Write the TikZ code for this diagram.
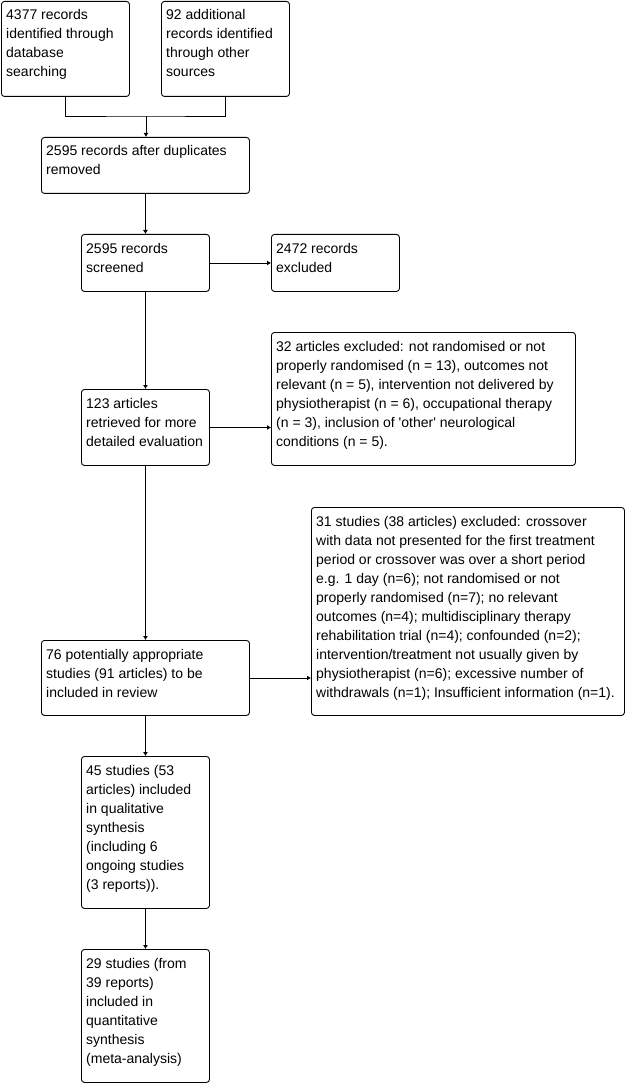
\documentclass[tikz,border=0pt]{standalone}
\usepackage{fontspec}
\newfontfamily\arialf{Liberation Sans}
\usetikzlibrary{arrows.meta}
\begin{document}
\begin{tikzpicture}[x=1pt,y=1pt,
  box/.style={draw=black, line width=0.9pt, rounded corners=3pt, anchor=north west, inner sep=0pt},
  txt/.style={anchor=north west, align=left, inner xsep=5pt, inner ysep=5.5pt,
    font=\arialf\fontsize{14}{19}\selectfont},
  line/.style={draw=black, line width=0.9pt},
  arr/.style={line, -{Latex[length=4pt,width=5pt]}}]
\useasboundingbox (0,0) rectangle (626,-1083);
\fill[white] (0,0) rectangle (626,-1083);
% boxes
\node[box, minimum width=128, minimum height=95] (a) at (1,-1) {};
\node[box, minimum width=128, minimum height=95] (b) at (161,-1) {};
\node[box, minimum width=208, minimum height=56] (c) at (41,-137) {};
\node[box, minimum width=128, minimum height=57] (d) at (81,-234) {};
\node[box, minimum width=128, minimum height=57] (e) at (271,-234) {};
\node[box, minimum width=128, minimum height=76] (f) at (81,-389) {};
\node[box, minimum width=304, minimum height=133] (g) at (271,-332) {};
\node[box, minimum width=208, minimum height=75] (h) at (41,-640) {};
\node[box, minimum width=313, minimum height=208] (i) at (311,-507) {};
\node[box, minimum width=128, minimum height=152] (j) at (81,-756) {};
\node[box, minimum width=128, minimum height=133] (k) at (81,-949) {};
% texts
\node[txt] (at) at (a.north west) {\strut 4377 records\\identified through\\database\\searching};
\node[txt] (bt) at (b.north west) {\strut 92 additional\\records identified\\through other\\sources};
\node[txt] (ct) at (c.north west) {\strut 2595 records after duplicates\\removed};
\node[txt] (dt) at (d.north west) {\strut 2595 records\\screened};
\node[txt] (et) at (e.north west) {\strut 2472 records\\excluded};
\node[txt] (ft) at (f.north west) {\strut 123 articles\\retrieved for more\\detailed evaluation};
\node[txt] (gt) at (g.north west) {\strut 32 articles excluded: not randomised or not\\properly randomised (n = 13), outcomes not\\relevant (n = 5), intervention not delivered by\\physiotherapist (n = 6), occupational therapy\\(n = 3), inclusion of 'other' neurological\\conditions (n = 5).};
\node[txt] (ht) at (h.north west) {\strut 76 potentially appropriate\\studies (91 articles) to be\\included in review};
\node[txt] (it) at (i.north west) {\strut 31 studies (38 articles) excluded: crossover\\with data not presented for the first treatment\\period or crossover was over a short period\\e.g. 1 day (n=6); not randomised or not\\properly randomised (n=7); no relevant\\outcomes (n=4); multidisciplinary therapy\\rehabilitation trial (n=4); confounded (n=2);\\intervention/treatment not usually given by\\physiotherapist (n=6); excessive number of\\withdrawals (n=1); Insufficient information (n=1).};
\node[txt] (jt) at (j.north west) {\strut 45 studies (53\\articles) included\\in qualitative\\synthesis\\(including 6\\ongoing studies\\(3 reports)).};
\node[txt] (kt) at (k.north west) {\strut 29 studies (from\\39 reports)\\included in\\quantitative\\synthesis\\(meta-analysis)};
% connectors
\coordinate (jn) at (146,-116);
\draw[line] (a.south) |- (jn) -| (b.south);
\draw[arr] (jn) -- (jn |- c.north);
\draw[arr] (c.south) -- (d.north);
\draw[arr] (d.east) -- (d.east -| e.west);
\draw[arr] (d.south) -- (f.north);
\draw[arr] (f.east) -- (f.east -| g.west);
\draw[arr] (f.south) -- (f.south |- h.north);
\draw[arr] (h.east) -- (h.east -| i.west);
\draw[arr] (h.south -| j.north) -- (j.north);
\draw[arr] (j.south) -- (k.north);
\end{tikzpicture}
\end{document}
